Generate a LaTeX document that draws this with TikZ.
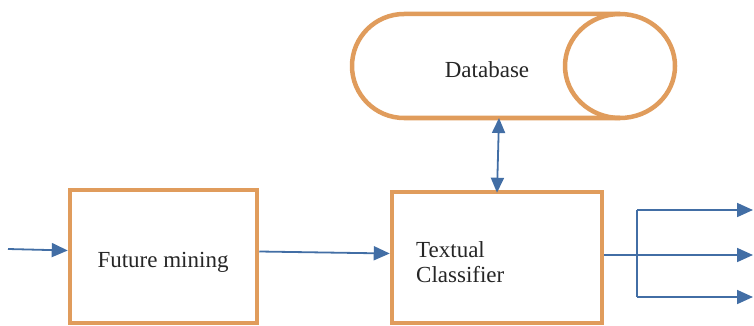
\documentclass[tikz,border=0pt]{standalone}
\usepackage{fontspec}
\setmainfont{Liberation Serif}
\usetikzlibrary{arrows.meta}
\definecolor{boxor}{RGB}{224,156,92}
\definecolor{arrblue}{RGB}{66,110,165}
\tikzset{
  obox/.style={draw=boxor, line width=4.5pt, fill=white, rectangle, inner sep=0pt},
  lbl/.style={font=\fontsize{23}{25}\selectfont, inner sep=0pt, text=black!85},
  tip/.style={},
  arr/.style={draw=arrblue, line width=1.8pt, -{Triangle[length=16pt,width=14pt]}},
  darr/.style={draw=arrblue, line width=1.8pt, {Triangle[length=15pt,width=13pt]}-{Triangle[length=15pt,width=13pt]}},
  wire/.style={draw=arrblue, line width=1.8pt},
}
\begin{document}
\begin{tikzpicture}[x=1pt,y=-1pt]
\useasboundingbox (0,0) rectangle (754,326);
% Database (horizontal cylinder)
\draw[boxor, line width=4.5pt, fill=white]
  (620,14) -- (404,14) arc[start angle=270, end angle=90, x radius=52, y radius=52] -- (620,118);
\draw[boxor, line width=4.5pt] (620,66) ellipse[x radius=55, y radius=52];
\node[lbl] (dbtext) at (487,70) {Database};
\coordinate (dbbottom) at (499,118);
% Boxes
\node[obox, minimum width=187pt, minimum height=133pt] (fm) at (163.5,256.5) {};
\node[lbl] (fmtext) at (163,262) {Future mining};
\node[obox, minimum width=210pt, minimum height=131pt] (tc) at (497,257.5) {};
\node[lbl, align=left, anchor=west] (tctext) at (416,262) {Textual\\Classifier};
% Connectors
\coordinate (in) at (8,249);
\draw[arr] (in) -- ([yshift=6pt]fm.west);
\draw[arr] ([yshift=5pt]fm.east) -- ([yshift=4pt]tc.west);
\draw[darr] (dbbottom) -- ([yshift=-3pt]tc.north);
\coordinate (brtop) at (637,210);
\coordinate (brbot) at (637,297);
\coordinate (out1) at (753,210);
\coordinate (out2) at (753,255);
\coordinate (out3) at (753,297);
\draw[wire] (brtop) -- (brbot);
\draw[arr] ([yshift=2.5pt]tc.east) -- (out2);
\draw[arr] (brtop) -- (out1);
\draw[arr] (brbot) -- (out3);
\end{tikzpicture}
\end{document}
